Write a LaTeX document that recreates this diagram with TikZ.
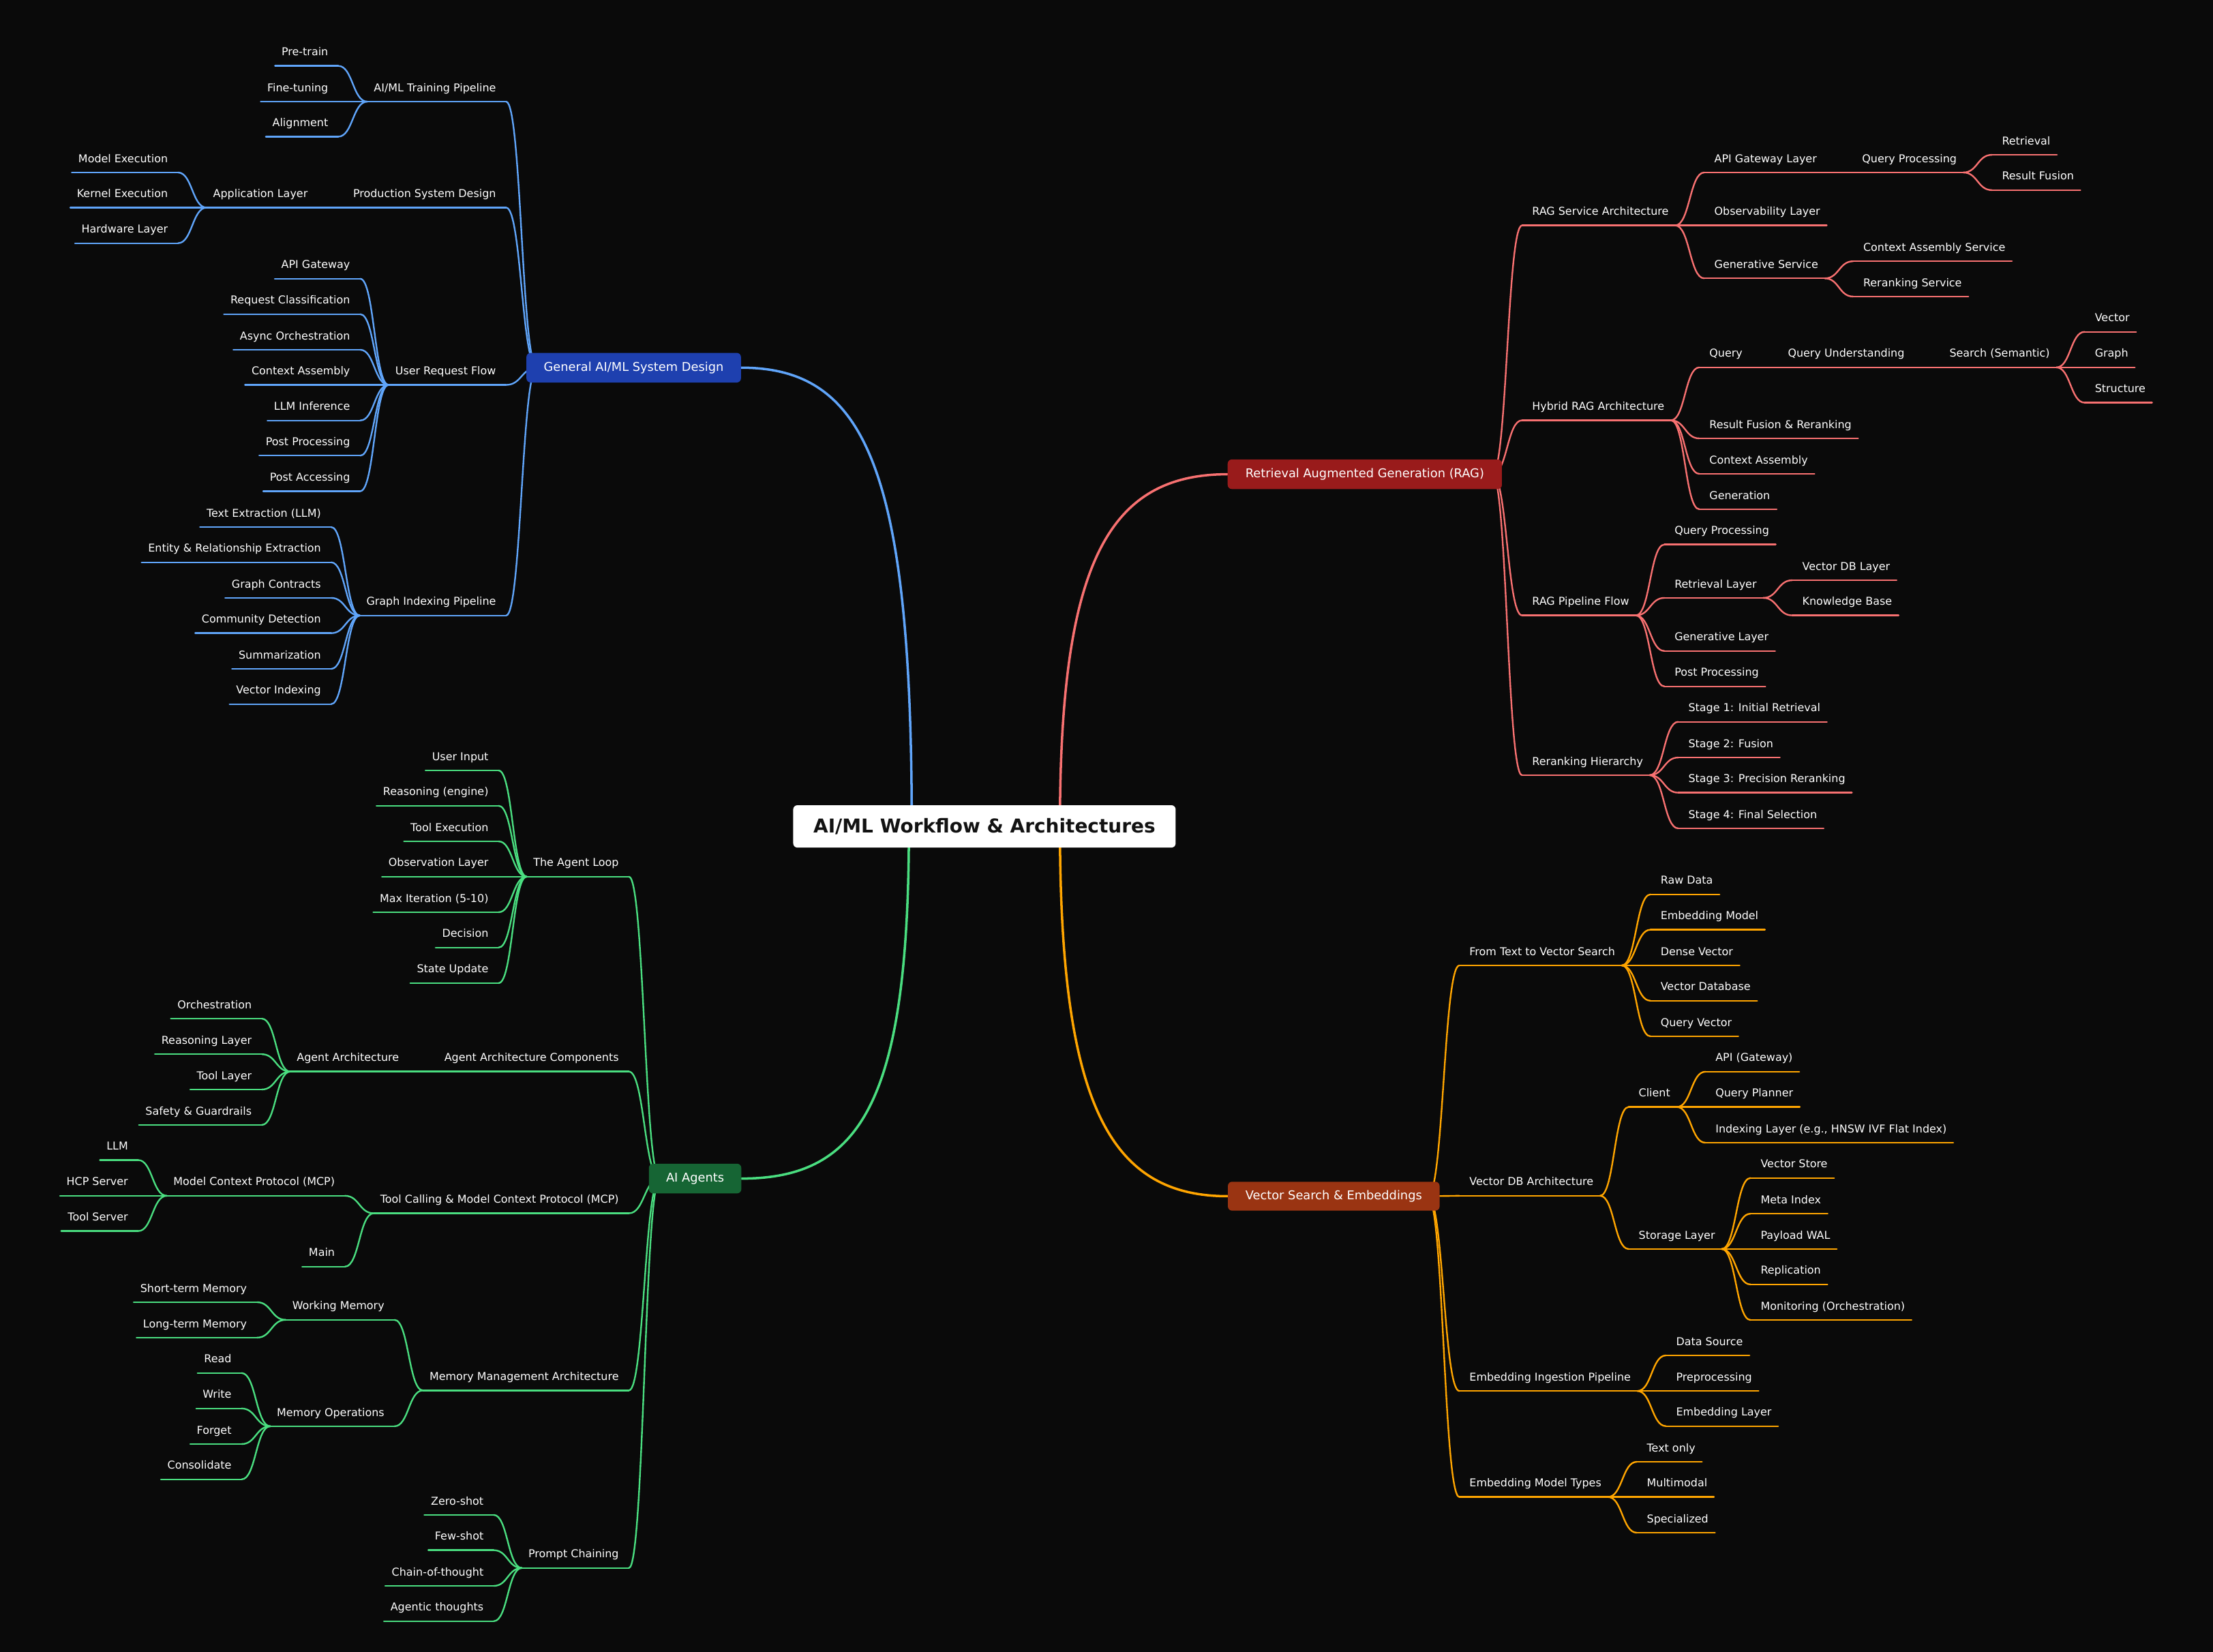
\documentclass[tikz,border=0pt]{standalone}
\usepackage{fontspec}
\setmainfont{DejaVu Sans}
\usetikzlibrary{calc}
\pgfdeclarelayer{back}
\pgfdeclarelayer{lines}
\pgfsetlayers{back,lines,main}
\definecolor{bgc}{HTML}{0A0A0A}
\definecolor{lnB}{HTML}{60A5FA}
\definecolor{lnG}{HTML}{4ADE80}
\definecolor{lnR}{HTML}{F87171}
\definecolor{lnO}{HTML}{FFA500}
\definecolor{bxB}{HTML}{1E40AF}
\definecolor{bxG}{HTML}{166534}
\definecolor{bxR}{HTML}{991B1B}
\definecolor{bxO}{HTML}{9A3412}
\newcommand\leaffont{\fontsize{7.7pt}{9pt}\selectfont}
\newcommand\boxfont{\fontsize{8.6pt}{10pt}\selectfont}
\newcommand\rootfont{\fontsize{13.5pt}{16pt}\selectfont\bfseries}
\newcommand\lnk[3]{\draw[#1] let \p1=(#2), \p2=(#3) in (\p1) .. controls ({0.5*\x1+0.5*\x2},\y1) and ({0.5*\x1+0.5*\x2},\y2) .. (\p2);}
\newcommand\RN[6]{\node[mm, anchor=south west] (#2) at ({#4-4.5},#5) {#6};
  \coordinate (#2-o) at ([xshift=-2.5pt]#2.south west);
  \draw[#1] (#2-o) -- (#2.south east);
  \lnk{#1}{#3}{#2-o}}
\newcommand\LN[6]{\node[mm, anchor=south east] (#2) at ({#4+4.5},#5) {#6};
  \coordinate (#2-o) at ([xshift=2.5pt]#2.south east);
  \draw[#1] (#2.south west) -- (#2-o);
  \lnk{#1}{#3}{#2-o}}
\begin{document}
\begin{tikzpicture}[x=1pt,y=-1pt,
  mm/.style={inner xsep=4.5pt, inner ysep=0pt, text height=6pt, text depth=7pt, font=\leaffont, text=white},
  cB/.style={draw=lnB, line width=1.15pt, line cap=round},
  cG/.style={draw=lnG, line width=1.15pt, line cap=round},
  cR/.style={draw=lnR, line width=1.15pt, line cap=round},
  cO/.style={draw=lnO, line width=1.15pt, line cap=round},
  rootline/.style={line width=1.7pt, line cap=round},
  box/.style={rounded corners=3pt, inner sep=0pt, minimum height=21pt, text=white, font=\boxfont}]
\begin{pgfonlayer}{back}
\fill[bgc] (0,0) rectangle (1568,1170.4);
\end{pgfonlayer}
\useasboundingbox (0,0) rectangle (1568,1170.4);
% boxes
\node[rounded corners=3pt, fill=white, minimum width=271pt, minimum height=30pt, inner sep=0pt, font=\rootfont, text=black!93] (C) at (697.5,585.5) {AI/ML Workflow \& Architectures};
\node[box, fill=bxB, minimum width=152pt] (bB) at (449,260.5) {General AI/ML System Design};
\node[box, fill=bxR, minimum width=194.3pt] (bR) at (967,336) {Retrieval Augmented Generation (RAG)};
\node[box, fill=bxG, minimum width=65.5pt] (bG) at (492.5,835) {AI Agents};
\node[box, fill=bxO, minimum width=150pt, minimum height=20.5pt] (bO) at (945,847.5) {Vector Search \& Embeddings};
\begin{pgfonlayer}{lines}
\coordinate (cBl) at (646,585);
\coordinate (cGl) at (644,585);
\coordinate (cRl) at (751,585);
\coordinate (cOl) at (751,585);
\draw[rootline, lnB] (bB.east) .. controls +(87,0) and +(0,-255) .. (cBl);
\draw[rootline, lnG] (bG.east) .. controls +(85,0) and +(0,195) .. (cGl);
\draw[rootline, lnR] (bR.west) .. controls +(-85,0) and +(0,-185) .. (cRl);
\draw[rootline, lnO] (bO.west) .. controls +(-85,0) and +(0,195) .. (cOl);
\coordinate (B0) at ([xshift=7.7pt]bB.west);
\coordinate (G0) at ([xshift=8pt]bG.west);
\coordinate (R0) at ([xshift=-7pt]bR.east);
\coordinate (O0) at ([xshift=-8.5pt]bO.east);
% ---------- blue
\LN{cB}{b1}{B0}{351.6}{72}{AI/ML Training Pipeline}
\LN{cB}{b11}{b1.south west}{232.7}{46.7}{Pre-train}
\LN{cB}{b12}{b1.south west}{232.7}{72}{Fine-tuning}
\LN{cB}{b13}{b1.south west}{232.7}{96.8}{Alignment}
\LN{cB}{b2}{B0}{351.6}{147.1}{Production System Design}
\LN{cB}{b21}{b2.south west}{218.2}{147.1}{Application Layer}
\LN{cB}{b211}{b21.south west}{119.1}{122.2}{Model Execution}
\LN{cB}{b212}{b21.south west}{119.1}{147.1}{Kernel Execution}
\LN{cB}{b213}{b21.south west}{119.1}{172.3}{Hardware Layer}
\LN{cB}{b3}{B0}{351.6}{272.7}{User Request Flow}
\LN{cB}{b31}{b3.south west}{248.2}{197.5}{API Gateway}
\LN{cB}{b32}{b3.south west}{248.2}{222.6}{Request Classification}
\LN{cB}{b33}{b3.south west}{248.2}{247.8}{Async Orchestration}
\LN{cB}{b34}{b3.south west}{248.2}{272.7}{Context Assembly}
\LN{cB}{b35}{b3.south west}{248.2}{297.9}{LLM Inference}
\LN{cB}{b36}{b3.south west}{248.2}{322.8}{Post Processing}
\LN{cB}{b37}{b3.south west}{248.2}{348}{Post Accessing}
\LN{cB}{b4}{B0}{351.6}{436.1}{Graph Indexing Pipeline}
\LN{cB}{b41}{b4.south west}{227.6}{373.4}{Text Extraction (LLM)}
\LN{cB}{b42}{b4.south west}{227.6}{398.4}{Entity \& Relationship Extraction}
\LN{cB}{b43}{b4.south west}{227.6}{423.6}{Graph Contracts}
\LN{cB}{b44}{b4.south west}{227.6}{448.6}{Community Detection}
\LN{cB}{b45}{b4.south west}{227.6}{473.9}{Summarization}
\LN{cB}{b46}{b4.south west}{227.6}{498.9}{Vector Indexing}
% ---------- green
\LN{cG}{g1}{G0}{438.6}{621.1}{The Agent Loop}
\LN{cG}{g11}{g1.south west}{346.3}{545.9}{User Input}
\LN{cG}{g12}{g1.south west}{346.3}{570.9}{Reasoning (engine)}
\LN{cG}{g13}{g1.south west}{346.3}{596.1}{Tool Execution}
\LN{cG}{g14}{g1.south west}{346.3}{621.1}{Observation Layer}
\LN{cG}{g15}{g1.south west}{346.3}{646.3}{Max Iteration (5-10)}
\LN{cG}{g16}{g1.south west}{346.3}{671.3}{Decision}
\LN{cG}{g17}{g1.south west}{346.3}{696.5}{State Update}
\LN{cG}{g2}{G0}{438.6}{759.2}{Agent Architecture Components}
\LN{cG}{g21}{g2.south west}{282.9}{759.2}{Agent Architecture}
\LN{cG}{g211}{g21.south west}{178.5}{721.7}{Orchestration}
\LN{cG}{g212}{g21.south west}{178.5}{746.9}{Reasoning Layer}
\LN{cG}{g213}{g21.south west}{178.5}{771.9}{Tool Layer}
\LN{cG}{g214}{g21.south west}{178.5}{797}{Safety \& Guardrails}
\LN{cG}{g3}{G0}{438.6}{859.6}{Tool Calling \& Model Context Protocol (MCP)}
\LN{cG}{g31}{g3.south west}{237.4}{847.2}{Model Context Protocol (MCP)}
\LN{cG}{g311}{g31.south west}{90.9}{821.9}{LLM}
\LN{cG}{g312}{g31.south west}{90.9}{847.2}{HCP Server}
\LN{cG}{g313}{g31.south west}{90.9}{872.2}{Tool Server}
\LN{cG}{g32}{g3.south west}{237.4}{897.4}{Main}
\LN{cG}{g4}{G0}{438.6}{985.1}{Memory Management Architecture}
\LN{cG}{g41}{g4.south west}{272.5}{935.1}{Working Memory}
\LN{cG}{g411}{g41.south west}{175.1}{922.6}{Short-term Memory}
\LN{cG}{g412}{g41.south west}{175.1}{947.7}{Long-term Memory}
\LN{cG}{g42}{g4.south west}{272.5}{1010.5}{Memory Operations}
\LN{cG}{g421}{g42.south west}{164.2}{972.8}{Read}
\LN{cG}{g422}{g42.south west}{164.2}{997.9}{Write}
\LN{cG}{g423}{g42.south west}{164.2}{1023.1}{Forget}
\LN{cG}{g424}{g42.south west}{164.2}{1048.1}{Consolidate}
\LN{cG}{g5}{G0}{438.6}{1110.9}{Prompt Chaining}
\LN{cG}{g51}{g5.south west}{342.8}{1073.3}{Zero-shot}
\LN{cG}{g52}{g5.south west}{342.8}{1098.3}{Few-shot}
\LN{cG}{g53}{g5.south west}{342.8}{1123.6}{Chain-of-thought}
\LN{cG}{g54}{g5.south west}{342.8}{1148.6}{Agentic thoughts}
% ---------- red
\RN{cR}{r1}{R0}{1085.4}{159.7}{RAG Service Architecture}
\RN{cR}{r11}{r1.south east}{1214.5}{122.2}{API Gateway Layer}
\RN{cR}{r111}{r11.south east}{1319.2}{122.2}{Query Processing}
\RN{cR}{r1111}{r111.south east}{1418.3}{109.7}{Retrieval}
\RN{cR}{r1112}{r111.south east}{1418.3}{134.7}{Result Fusion}
\RN{cR}{r12}{r1.south east}{1214.5}{159.7}{Observability Layer}
\RN{cR}{r13}{r1.south east}{1214.5}{197.2}{Generative Service}
\RN{cR}{r131}{r13.south east}{1320}{185.1}{Context Assembly Service}
\RN{cR}{r132}{r13.south east}{1320}{210.1}{Reranking Service}
\RN{cR}{r2}{R0}{1085.4}{297.8}{Hybrid RAG Architecture}
\RN{cR}{r21}{r2.south east}{1211}{260.3}{Query}
\RN{cR}{r211}{r21.south east}{1266.6}{260.3}{Query Understanding}
\RN{cR}{r2111}{r211.south east}{1381.1}{260.3}{Search (Semantic)}
\RN{cR}{r21111}{r2111.south east}{1484.1}{235.1}{Vector}
\RN{cR}{r21112}{r2111.south east}{1484.1}{260.3}{Graph}
\RN{cR}{r21113}{r2111.south east}{1484.1}{285.3}{Structure}
\RN{cR}{r22}{r2.south east}{1211}{310.6}{Result Fusion \& Reranking}
\RN{cR}{r23}{r2.south east}{1211}{335.7}{Context Assembly}
\RN{cR}{r24}{r2.south east}{1211}{360.8}{Generation}
\RN{cR}{r3}{R0}{1085.4}{436.0}{RAG Pipeline Flow}
\RN{cR}{r31}{r3.south east}{1186.3}{385.8}{Query Processing}
\RN{cR}{r32}{r3.south east}{1186.3}{423.6}{Retrieval Layer}
\RN{cR}{r321}{r32.south east}{1276.8}{411.1}{Vector DB Layer}
\RN{cR}{r322}{r32.south east}{1276.8}{436.0}{Knowledge Base}
\RN{cR}{r33}{r3.south east}{1186.3}{461.2}{Generative Layer}
\RN{cR}{r34}{r3.south east}{1186.3}{486.3}{Post Processing}
\RN{cR}{r4}{R0}{1085.4}{549.2}{Reranking Hierarchy}
\RN{cR}{r41}{r4.south east}{1196.1}{511.4}{Stage 1: Initial Retrieval}
\RN{cR}{r42}{r4.south east}{1196.1}{536.7}{Stage 2: Fusion}
\RN{cR}{r43}{r4.south east}{1196.1}{561.6}{Stage 3: Precision Reranking}
\RN{cR}{r44}{r4.south east}{1196.1}{586.9}{Stage 4: Final Selection}
% ---------- orange
\RN{cO}{o1}{O0}{1041}{684.0}{From Text to Vector Search}
\RN{cO}{o11}{o1.south east}{1176.4}{633.7}{Raw Data}
\RN{cO}{o12}{o1.south east}{1176.4}{658.7}{Embedding Model}
\RN{cO}{o13}{o1.south east}{1176.4}{684.0}{Dense Vector}
\RN{cO}{o14}{o1.south east}{1176.4}{709}{Vector Database}
\RN{cO}{o15}{o1.south east}{1176.4}{734.2}{Query Vector}
\RN{cO}{o2}{O0}{1041}{847.2}{Vector DB Architecture}
\RN{cO}{o21}{o2.south east}{1160.9}{784.3}{Client}
\RN{cO}{o211}{o21.south east}{1215.3}{759.3}{API (Gateway)}
\RN{cO}{o212}{o21.south east}{1215.3}{784.3}{Query Planner}
\RN{cO}{o213}{o21.south east}{1215.3}{809.6}{Indexing Layer (e.g., HNSW IVF Flat Index)}
\RN{cO}{o22}{o2.south east}{1160.9}{884.9}{Storage Layer}
\RN{cO}{o221}{o22.south east}{1247.3}{834.6}{Vector Store}
\RN{cO}{o222}{o22.south east}{1247.3}{859.9}{Meta Index}
\RN{cO}{o223}{o22.south east}{1247.3}{884.9}{Payload WAL}
\RN{cO}{o224}{o22.south east}{1247.3}{910}{Replication}
\RN{cO}{o225}{o22.south east}{1247.3}{935.2}{Monitoring (Orchestration)}
\RN{cO}{o3}{O0}{1041}{985.5}{Embedding Ingestion Pipeline}
\RN{cO}{o31}{o3.south east}{1187.4}{960.3}{Data Source}
\RN{cO}{o32}{o3.south east}{1187.4}{985.5}{Preprocessing}
\RN{cO}{o33}{o3.south east}{1187.4}{1010.4}{Embedding Layer}
\RN{cO}{o4}{O0}{1041}{1060.6}{Embedding Model Types}
\RN{cO}{o41}{o4.south east}{1166.7}{1035.7}{Text only}
\RN{cO}{o42}{o4.south east}{1166.7}{1060.6}{Multimodal}
\RN{cO}{o43}{o4.south east}{1166.7}{1085.9}{Specialized}
\end{pgfonlayer}
\end{tikzpicture}
\end{document}
